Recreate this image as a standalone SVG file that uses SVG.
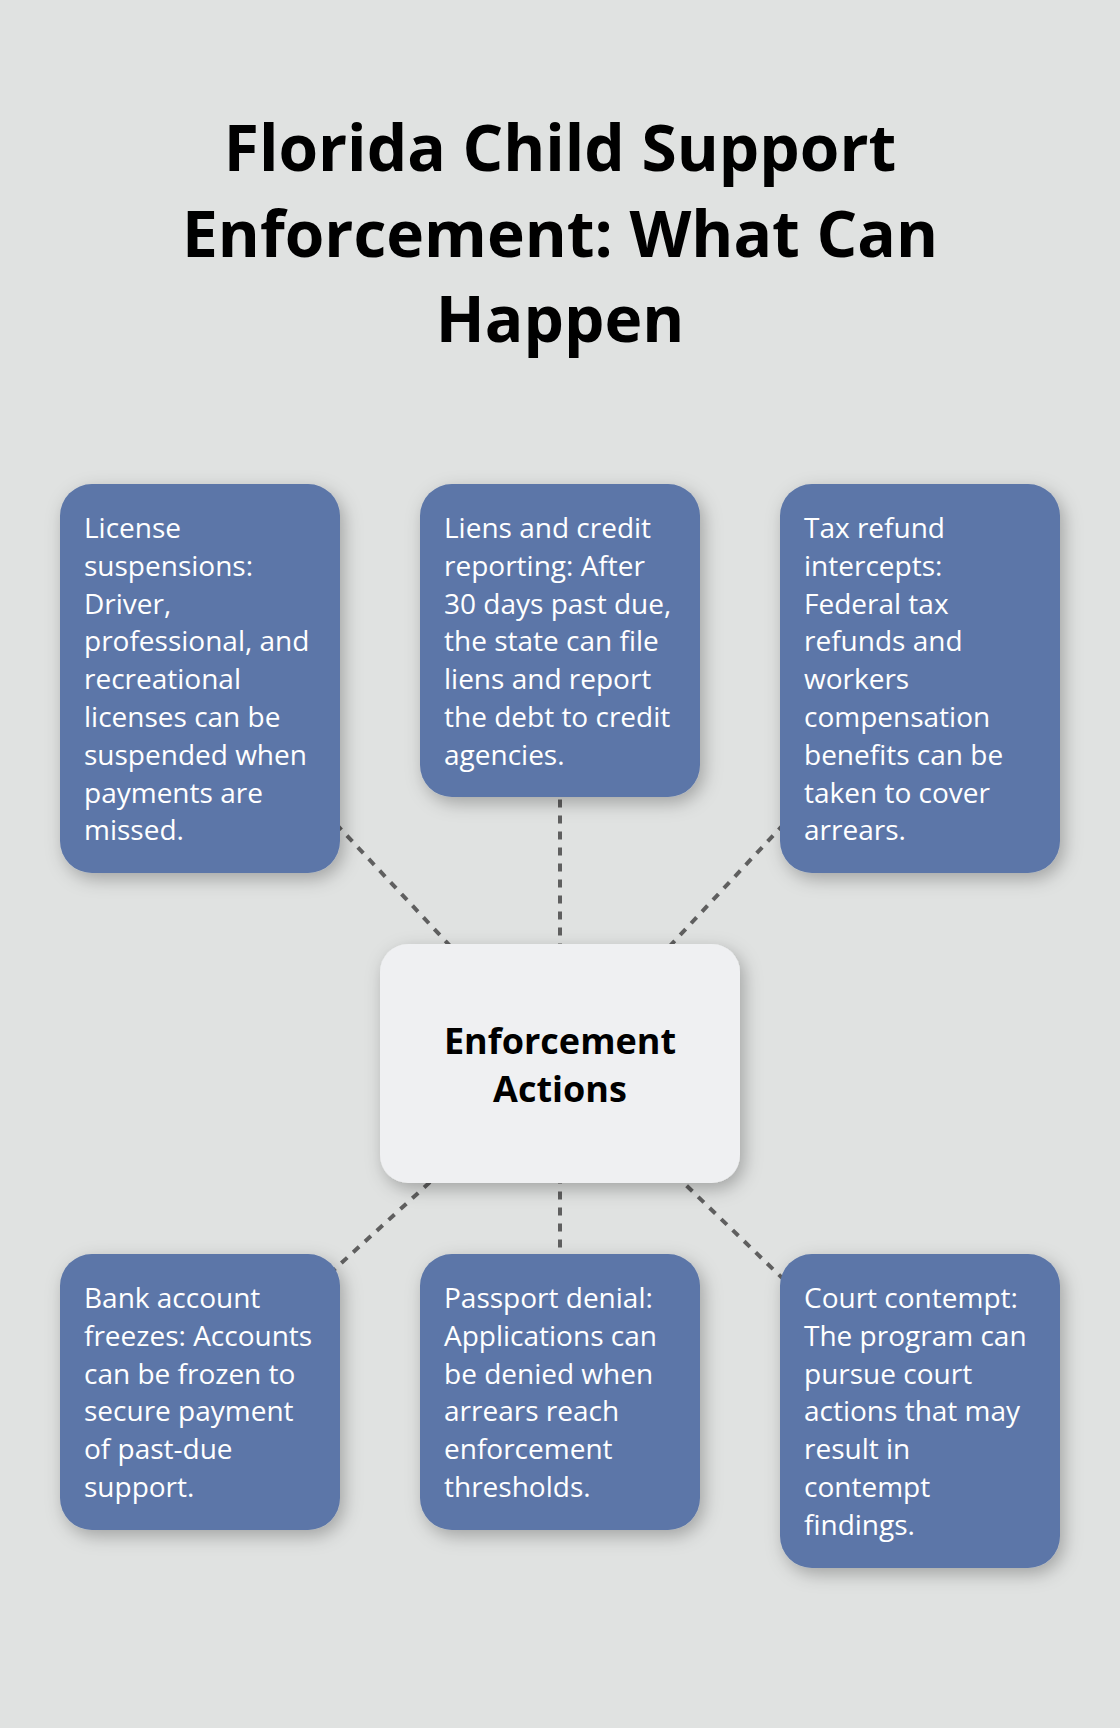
<svg xmlns="http://www.w3.org/2000/svg" width="1120" height="1728" viewBox="0 0 1120 1728">
  <defs>
    <filter id="shadow" x="-20%" y="-20%" width="150%" height="150%">
      <feDropShadow dx="4" dy="6" stdDeviation="9" flood-color="#000" flood-opacity="0.28"/>
    </filter>
    <style>
      .title { font-family: "Open Sans", "DejaVu Sans", sans-serif; font-weight: 700; font-size: 64px; fill: #000; text-anchor: middle; }
      .box { fill: #5b76a8; filter: url(#shadow); }
      .center { fill: #eff0f2; filter: url(#shadow); }
      .txt { font-family: "Open Sans", "DejaVu Sans", sans-serif; font-size: 28px; fill: #ffffff; }
      .ctxt { font-family: "Open Sans", "DejaVu Sans", sans-serif; font-weight: 700; font-size: 36px; fill: #000; text-anchor: middle; }
      .conn { stroke: #5f5f5f; stroke-width: 4; stroke-dasharray: 8 8; fill: none; }
    </style>
  </defs>
  <rect x="0" y="0" width="1120" height="1728" fill="#e0e2e1"/>

  <g id="title">
    <text class="title" x="560" y="171">Florida Child Support</text>
    <text class="title" x="560" y="256.5">Enforcement: What Can</text>
    <text class="title" x="560" y="342">Happen</text>
  </g>

  <g id="connectors">
    <line class="conn" x1="560" y1="1063.5" x2="200" y2="678.5"/>
    <line class="conn" x1="560" y1="1063.5" x2="560" y2="640.5"/>
    <line class="conn" x1="560" y1="1063.5" x2="920" y2="678.5"/>
    <line class="conn" x1="560" y1="1063.5" x2="200" y2="1392"/>
    <line class="conn" x1="560" y1="1063.5" x2="560" y2="1392"/>
    <line class="conn" x1="560" y1="1063.5" x2="920" y2="1411"/>
  </g>

  <g id="node-license">
    <rect class="box" x="60" y="484" width="280" height="389" rx="32"/>
    <text class="txt">
      <tspan x="84" y="538">License</tspan>
      <tspan x="84" y="575.8">suspensions:</tspan>
      <tspan x="84" y="613.6">Driver,</tspan>
      <tspan x="84" y="651.4">professional, and</tspan>
      <tspan x="84" y="689.2">recreational</tspan>
      <tspan x="84" y="727">licenses can be</tspan>
      <tspan x="84" y="764.8">suspended when</tspan>
      <tspan x="84" y="802.6">payments are</tspan>
      <tspan x="84" y="840.4">missed.</tspan>
    </text>
  </g>

  <g id="node-liens">
    <rect class="box" x="420" y="484" width="280" height="313" rx="32"/>
    <text class="txt">
      <tspan x="444" y="538">Liens and credit</tspan>
      <tspan x="444" y="575.8">reporting: After</tspan>
      <tspan x="444" y="613.6">30 days past due,</tspan>
      <tspan x="444" y="651.4">the state can file</tspan>
      <tspan x="444" y="689.2">liens and report</tspan>
      <tspan x="444" y="727">the debt to credit</tspan>
      <tspan x="444" y="764.8">agencies.</tspan>
    </text>
  </g>

  <g id="node-tax">
    <rect class="box" x="780" y="484" width="280" height="389" rx="32"/>
    <text class="txt">
      <tspan x="804" y="538">Tax refund</tspan>
      <tspan x="804" y="575.8">intercepts:</tspan>
      <tspan x="804" y="613.6">Federal tax</tspan>
      <tspan x="804" y="651.4">refunds and</tspan>
      <tspan x="804" y="689.2">workers</tspan>
      <tspan x="804" y="727">compensation</tspan>
      <tspan x="804" y="764.8">benefits can be</tspan>
      <tspan x="804" y="802.6">taken to cover</tspan>
      <tspan x="804" y="840.4">arrears.</tspan>
    </text>
  </g>

  <g id="node-center">
    <rect class="center" x="380" y="944" width="360" height="239" rx="28"/>
    <text class="ctxt" x="560" y="1054">Enforcement</text>
    <text class="ctxt" x="560" y="1101.7">Actions</text>
  </g>

  <g id="node-bank">
    <rect class="box" x="60" y="1254" width="280" height="276" rx="32"/>
    <text class="txt">
      <tspan x="84" y="1308">Bank account</tspan>
      <tspan x="84" y="1345.8">freezes: Accounts</tspan>
      <tspan x="84" y="1383.6">can be frozen to</tspan>
      <tspan x="84" y="1421.4">secure payment</tspan>
      <tspan x="84" y="1459.2">of past-due</tspan>
      <tspan x="84" y="1497">support.</tspan>
    </text>
  </g>

  <g id="node-passport">
    <rect class="box" x="420" y="1254" width="280" height="276" rx="32"/>
    <text class="txt">
      <tspan x="444" y="1308">Passport denial:</tspan>
      <tspan x="444" y="1345.8">Applications can</tspan>
      <tspan x="444" y="1383.6">be denied when</tspan>
      <tspan x="444" y="1421.4">arrears reach</tspan>
      <tspan x="444" y="1459.2">enforcement</tspan>
      <tspan x="444" y="1497">thresholds.</tspan>
    </text>
  </g>

  <g id="node-court">
    <rect class="box" x="780" y="1254" width="280" height="314" rx="32"/>
    <text class="txt">
      <tspan x="804" y="1308">Court contempt:</tspan>
      <tspan x="804" y="1345.8">The program can</tspan>
      <tspan x="804" y="1383.6">pursue court</tspan>
      <tspan x="804" y="1421.4">actions that may</tspan>
      <tspan x="804" y="1459.2">result in</tspan>
      <tspan x="804" y="1497">contempt</tspan>
      <tspan x="804" y="1534.8">findings.</tspan>
    </text>
  </g>
</svg>
